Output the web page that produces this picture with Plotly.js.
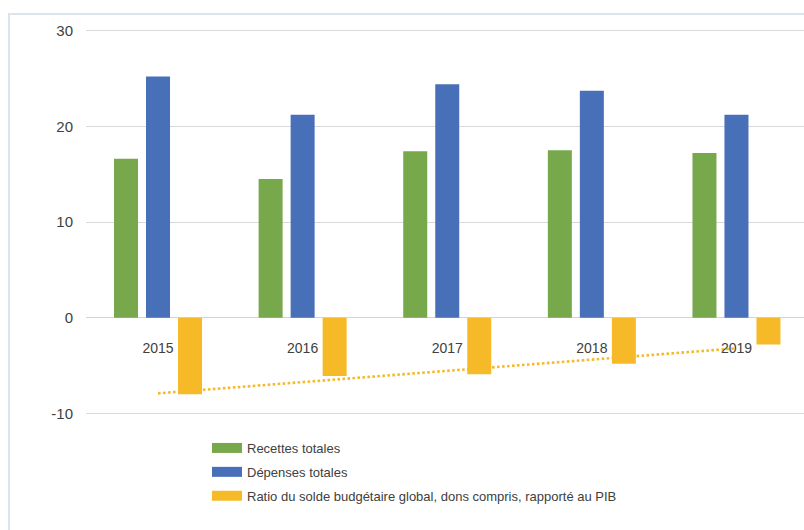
<!DOCTYPE html>
<html>
<head>
<meta charset="utf-8">
<script src="https://cdn.plot.ly/plotly-3.0.1.min.js"></script>
<style>
  html, body { margin: 0; padding: 0; background: #ffffff; }
  #chart { width: 804px; height: 530px; }
</style>
</head>
<body>
<div id="chart"></div>
<script>
// ---- Data ----
const years = ['2015', '2016', '2017', '2018', '2019'];
const recettes = [16.6, 14.5, 17.4, 17.5, 17.2];
const depenses = [25.2, 21.2, 24.4, 23.7, 21.2];
const solde = [-8.0, -6.1, -5.9, -4.8, -2.8];
const trendYears = ['2015', '2019'];
const trendValues = [-7.9, -3.2];
const yTickValues = [-10, 0, 10, 20, 30];
const yTickLabels = ['-10', '0', '10', '20', '30'];

const seriesNames = [
  'Recettes totales',
  'Dépenses totales',
  'Ratio du solde budgétaire global, dons compris, rapporté au PIB'
];

// ---- Styles ----
const GREEN = '#77A84C';
const BLUE = '#4870B8';
const ORANGE = '#F6BA28';
const FONT = '"Liberation Sans", Arial, sans-serif';
const TEXT = '#404040';

const W = 804, H = 530;
const M = { l: 86, r: 0, t: 21, b: 107 };
const plotW = W - M.l - M.r;
const plotH = H - M.t - M.b;
const yRange = [-11, 31];
const px2paperX = p => (p - M.l) / plotW;
const px2paperY = p => (H - M.b - p) / plotH;

const series = [recettes, depenses, solde];
const colors = [GREEN, BLUE, ORANGE];

const traces = [];
series.forEach((vals, i) => {
  traces.push({
    type: 'bar', x: years, y: vals, name: seriesNames[i],
    marker: { color: colors[i], line: { width: 0 } },
    showlegend: false, hoverinfo: 'x+y'
  });
});
traces.push({
  type: 'scatter', mode: 'lines', x: trendYears, y: trendValues,
  line: { color: ORANGE, width: 2.6, dash: '2.6px,2.4px' },
  showlegend: false, hoverinfo: 'skip'
});
// legend entries (wide swatches)
series.forEach((vals, i) => {
  traces.push({
    type: 'scatter', mode: 'lines', x: [null], y: [null], name: seriesNames[i],
    line: { color: colors[i], width: 10 },
    legendgroup: 'g' + i, showlegend: true, hoverinfo: 'skip'
  });
});

const layout = {
  width: W, height: H,
  margin: M,
  paper_bgcolor: '#ffffff', plot_bgcolor: '#ffffff',
  font: { family: FONT, color: TEXT, size: 14 },
  barmode: 'group', bargap: 0.336, bargroupgap: 0.25,
  showlegend: true,
  legend: {
    x: px2paperX(207), y: px2paperY(433), xanchor: 'left', yanchor: 'top',
    font: { family: FONT, size: 13, color: TEXT },
    tracegroupgap: 4, bgcolor: 'rgba(0,0,0,0)'
  },
  xaxis: {
    type: 'category', range: [-0.498, 4.467],
    showgrid: false, zeroline: false, showline: false, ticks: '',
    anchor: 'free', position: (0 - yRange[0]) / (yRange[1] - yRange[0]),
    ticklabelstandoff: 20,
    tickfont: { family: FONT, size: 14, color: TEXT }
  },
  yaxis: {
    range: yRange, tickmode: 'array', tickvals: yTickValues, ticktext: yTickLabels,
    showgrid: true, gridcolor: '#D9D9D9', gridwidth: 1,
    zeroline: true, zerolinecolor: '#D4D4D4', zerolinewidth: 1.5,
    showline: false, ticks: '', ticklabelstandoff: 12,
    tickfont: { family: FONT, size: 15, color: TEXT }
  },
  shapes: [{
    type: 'rect', xref: 'paper', yref: 'paper',
    x0: px2paperX(9), x1: px2paperX(830), y0: px2paperY(560), y1: px2paperY(14),
    line: { color: '#DDE3EA', width: 2 }, fillcolor: 'rgba(0,0,0,0)', layer: 'below'
  }]
};

Plotly.newPlot('chart', traces, layout, { staticPlot: true, displayModeBar: false });
</script>
</body>
</html>
